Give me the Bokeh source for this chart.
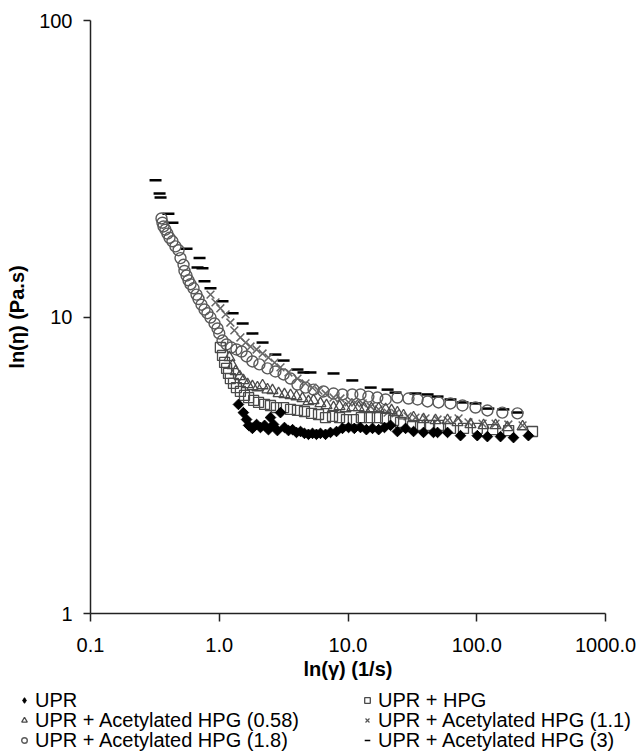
import math
from bokeh.plotting import figure
from bokeh.layouts import column
from bokeh.models import FixedTicker, Legend, LegendItem, Range1d
from bokeh.embed import file_html
from bokeh.resources import INLINE

# ---------------- data ----------------
UPR_x = [1.41, 1.54, 1.63, 1.69, 1.81, 1.95, 2.09, 2.25, 2.41, 2.50, 2.64, 2.83, 2.99, 3.21, 3.45,
         3.71, 3.98, 4.28, 4.59, 4.93, 5.30, 5.69, 6.11, 6.69, 7.31, 8.14, 9.06, 10.1, 11.2, 12.5,
         13.9, 15.5, 17.3, 19.2, 21.4, 24.2, 28.0, 32.3, 38.6, 46.1, 49.6, 59.3, 74.8, 101, 121,
         153, 193, 252]
UPR_y = [5.07, 4.76, 4.51, 4.31, 4.21, 4.34, 4.24, 4.31, 4.17, 4.58, 4.34, 4.14, 4.76, 4.24, 4.14,
         4.17, 4.08, 4.11, 4.05, 4.02, 4.05, 4.02, 4.05, 4.02, 4.08, 4.11, 4.21, 4.24, 4.21, 4.24,
         4.17, 4.21, 4.17, 4.24, 4.31, 4.11, 4.21, 4.11, 4.08, 4.08, 4.08, 4.08, 3.98, 3.98, 3.95,
         3.95, 3.92, 3.98]

HPG_x = [1.02, 1.06, 1.10, 1.14, 1.18, 1.22, 1.29, 1.36, 1.46, 1.57, 1.69, 1.85, 2.02, 2.25, 2.50,
         2.78, 3.16, 3.58, 4.05, 4.59, 5.21, 5.90, 6.69, 7.58, 8.59, 9.73, 11.0, 12.7, 14.7, 16.9,
         19.6, 22.6, 25.6, 31.7, 36.6, 43.0, 50.5, 62.5, 78.9, 101, 133, 177, 271]
HPG_y = [7.89, 7.42, 7.03, 6.71, 6.45, 6.20, 5.97, 5.78, 5.61, 5.44, 5.35, 5.23, 5.15, 5.07, 5.03,
         4.95, 4.95, 4.88, 4.84, 4.80, 4.73, 4.69, 4.58, 4.62, 4.58, 4.51, 4.51, 4.58, 4.58, 4.58,
         4.55, 4.48, 4.41, 4.27, 4.31, 4.31, 4.31, 4.21, 4.21, 4.21, 4.17, 4.14, 4.11]

A058_x = [1.20, 1.27, 1.34, 1.44, 1.54, 1.66, 1.81, 1.98, 2.17, 2.37, 2.59, 2.89, 3.21, 3.58, 3.98,
          4.43, 4.93, 5.40, 6.11, 6.81, 7.72, 8.59, 9.56, 10.8, 12.1, 13.4, 15.2, 17.3, 19.6, 21.8,
          24.2, 27.0, 32.3, 38.6, 47.8, 59.3, 70.9, 89.4, 113, 140, 173, 227]
A058_y = [7.30, 6.86, 6.55, 6.30, 6.11, 5.92, 5.83, 5.78, 5.87, 5.69, 5.65, 5.52, 5.48, 5.44, 5.39,
          5.31, 5.19, 5.23, 5.11, 5.03, 4.95, 4.99, 4.91, 4.95, 4.95, 4.91, 4.91, 4.91, 4.88, 4.84,
          4.76, 4.65, 4.58, 4.51, 4.48, 4.48, 4.41, 4.34, 4.31, 4.31, 4.24, 4.27]

A11_x = [0.855, 0.935, 1.02, 1.12, 1.22, 1.31, 1.46, 1.60, 1.75, 1.95, 2.17, 2.41, 2.69, 2.99, 3.45,
         4.05, 4.68, 5.30, 5.90, 6.69, 7.72, 8.74, 10.1, 11.4, 13.0, 15.0, 17.3, 20.3, 23.4, 29.0,
         33.4, 40.0, 49.6, 59.3, 72.2, 86.3, 111, 140, 176, 227]
A11_y = [11.9, 11.2, 10.7, 10.2, 9.58, 9.01, 8.53, 8.20, 7.95, 7.77, 7.53, 7.30, 7.02, 6.76, 6.50,
         6.20, 5.97, 5.78, 5.65, 5.52, 5.35, 5.31, 5.15, 5.15, 5.11, 4.99, 4.88, 4.76, 4.73, 4.62,
         4.58, 4.55, 4.51, 4.48, 4.55, 4.41, 4.37, 4.37, 4.34, 4.31]

A18_x = [0.356, 0.362, 0.369, 0.382, 0.396, 0.411, 0.433, 0.457, 0.483, 0.500, 0.528, 0.537, 0.557,
         0.577, 0.598, 0.631, 0.666, 0.690, 0.728, 0.768, 0.810, 0.855, 0.919, 0.969, 1.00, 1.06,
         1.14, 1.24, 1.36, 1.49, 1.63, 1.81, 2.05, 2.37, 2.73, 3.16, 3.58, 4.05, 4.68, 5.40, 6.45,
         7.72, 9.06, 10.8, 12.5, 14.4, 16.9, 19.6, 24.2, 29.5, 34.7, 41.5, 50.5, 62.5, 77.5, 97.8,
         121, 158, 207]
A18_y = [21.5, 20.8, 20.2, 19.7, 19.1, 18.5, 18.0, 17.3, 16.8, 15.8, 15.0, 14.3, 13.8, 13.3, 12.9,
         12.5, 11.9, 11.5, 11.0, 10.6, 10.3, 9.96, 9.51, 9.15, 8.80, 8.33, 8.08, 7.89, 7.77, 7.65,
         7.36, 7.08, 6.92, 6.71, 6.55, 6.40, 6.20, 5.92, 5.78, 5.69, 5.61, 5.52, 5.48, 5.48, 5.48,
         5.39, 5.35, 5.27, 5.35, 5.31, 5.27, 5.19, 5.15, 5.11, 5.03, 4.95, 4.84, 4.76, 4.73]

A3_x = [0.320, 0.344, 0.350, 0.403, 0.433, 0.557, 0.703, 0.678, 0.741, 0.768, 0.855, 1.06, 1.27,
        1.52, 1.81, 2.17, 2.73, 3.16, 4.05, 4.51, 5.11, 7.72, 10.8, 15.0, 20.3, 23.4, 33.4, 41.5,
        49.6, 62.5, 77.5, 97.8, 123, 161, 207]
A3_y = [28.9, 26.1, 25.3, 22.3, 20.8, 17.0, 15.8, 14.7, 14.6, 13.2, 12.5, 11.3, 10.3, 9.51, 8.80,
        8.20, 7.47, 7.13, 6.65, 6.50, 6.50, 6.45, 6.11, 5.78, 5.69, 5.56, 5.52, 5.48, 5.39, 5.27,
        5.15, 5.11, 4.91, 4.88, 4.76]

SERIES_NAMES = ["UPR", "UPR + HPG", "UPR + Acetylated HPG (0.58)", "UPR + Acetylated HPG (1.1)",
                "UPR + Acetylated HPG (1.8)", "UPR + Acetylated HPG (3)"]

X_TICKS = [0.1, 1, 10, 100, 1000]
X_TICK_LABELS = ["0.1", "1.0", "10.0", "100.0", "1000.0"]
Y_TICKS = [1, 10, 100]
Y_TICK_LABELS = ["1", "10", "100"]

FONT = "Liberation Sans"

SERIES = {
    "UPR": (UPR_x, UPR_y),
    "HPG": (HPG_x, HPG_y),
    "A058": (A058_x, A058_y),
    "A11": (A11_x, A11_y),
    "A18": (A18_x, A18_y),
    "A3": (A3_x, A3_y),
}
STYLES = {
    "UPR": dict(marker="square", angle=math.pi / 4, size=7.5, fill_color="black", line_color="black"),
    "HPG": dict(marker="square", size=10, fill_color=None, line_color="#4a4a4a", line_width=1.3),
    "A058": dict(marker="triangle", size=11, fill_color=None, line_color="#4a4a4a", line_width=1.3),
    "A11": dict(marker="x", size=11, line_color="#666666", line_width=1.5),
    "A18": dict(marker="circle", size=11, fill_color=None, line_color="#5a5a5a", line_width=1.4),
    "A3": dict(marker="dash", size=12, line_color="black", line_width=2.5),
}
# small swatches used in the legend strip
LEGEND_STYLES = dict(STYLES)
LEGEND_STYLES["UPR"] = dict(marker="diamond", size=10, fill_color="black", line_color="black")
LEGEND_STYLES["A3"] = dict(marker="dash", size=12, line_color="black", line_width=1.5)
LEGEND_STYLES["A11"] = dict(marker="x", size=11, line_color="#555555", line_width=1.2)
DRAW_ORDER = ["A3", "A18", "A11", "A058", "HPG", "UPR"]


def no_align(fig):
    if "frame_align" in fig.properties():
        fig.frame_align = False


# ---------------- main figure ----------------
p = figure(width=636, height=686, x_axis_type="log", y_axis_type="log",
           x_range=(0.1, 1000), y_range=(1, 100),
           output_backend="svg", toolbar_location=None,
           min_border_left=90, min_border_right=31, min_border_top=20, min_border_bottom=73)
p.grid.visible = False
p.outline_line_color = None
p.background_fill_color = "white"
p.border_fill_color = "white"
no_align(p)

for key in DRAW_ORDER:
    xs, ys = SERIES[key]
    p.scatter(xs, ys, **STYLES[key])

for ax in (p.xaxis[0], p.yaxis[0]):
    ax.axis_line_color = "#222222"
    ax.axis_line_width = 1.5
    ax.major_tick_line_color = "#222222"
    ax.major_tick_line_width = 1.5
    ax.major_tick_in = 0
    ax.minor_tick_line_color = None
    ax.major_label_text_font = FONT
    ax.major_label_text_font_size = "20px"
    ax.major_label_text_color = "black"
    ax.axis_label_text_font = FONT
    ax.axis_label_text_font_size = "20px"
    ax.axis_label_text_font_style = "bold"
    ax.axis_label_text_color = "black"

xa = p.xaxis[0]
xa.ticker = FixedTicker(ticks=X_TICKS)
xa.major_label_overrides = {t: l for t, l in zip(X_TICKS, X_TICK_LABELS)}
xa.major_tick_out = 8
xa.major_label_standoff = 16
xa.axis_label = "ln(γ) (1/s)"
xa.axis_label_standoff = 3

ya = p.yaxis[0]
ya.ticker = FixedTicker(ticks=Y_TICKS)
ya.major_label_overrides = {t: l for t, l in zip(Y_TICKS, Y_TICK_LABELS)}
ya.major_tick_out = 7
ya.major_label_standoff = 11
ya.axis_label = "ln(η) (Pa.s)"
ya.axis_label_standoff = 8

# ---------------- legend strip (two columns x three rows) ----------------
LF_H = 66
lf = figure(width=636, height=LF_H, output_backend="svg", toolbar_location=None,
            x_range=Range1d(0, 1), y_range=Range1d(0, 1),
            x_axis_location=None, y_axis_location=None,
            min_border_left=0, min_border_right=0, min_border_top=0, min_border_bottom=0)
lf.grid.visible = False
lf.outline_line_color = None
lf.background_fill_color = "white"
lf.border_fill_color = "white"
no_align(lf)

# legend-only renderers: the same series, whose points all lie outside this
# strip's (0..1) ranges, so only their legend swatches are shown
leg_r = {}
for key in DRAW_ORDER:
    xs, ys = SERIES[key]
    leg_r[key] = lf.scatter(xs, ys, **LEGEND_STYLES[key])

ROW_H = 24


def add_entry(key, name, col_x, row):
    centre = 14 + 20 * row                 # row centre, px from the strip top
    loc_y = LF_H - (centre + ROW_H // 2)   # legend bottom, px above the strip bottom
    lg = Legend(items=[LegendItem(label=name, renderers=[leg_r[key]])], location=(col_x, loc_y))
    lg.border_line_color = None
    lg.background_fill_alpha = 0
    lg.padding = 0
    lg.margin = 0
    lg.spacing = 0
    lg.glyph_width = 14
    lg.glyph_height = ROW_H
    lg.label_height = ROW_H
    lg.label_standoff = 4
    lg.label_text_font = FONT
    lg.label_text_font_size = "20px"
    lg.label_text_color = "black"
    lf.add_layout(lg)


add_entry("UPR", SERIES_NAMES[0], 17, 0)
add_entry("A058", SERIES_NAMES[2], 17, 1)
add_entry("A18", SERIES_NAMES[4], 17, 2)
add_entry("HPG", SERIES_NAMES[1], 360, 0)
add_entry("A11", SERIES_NAMES[3], 360, 1)
add_entry("A3", SERIES_NAMES[5], 360, 2)

layout = column(p, lf, spacing=0)
open("out.html", "w").write(file_html(layout, INLINE))
